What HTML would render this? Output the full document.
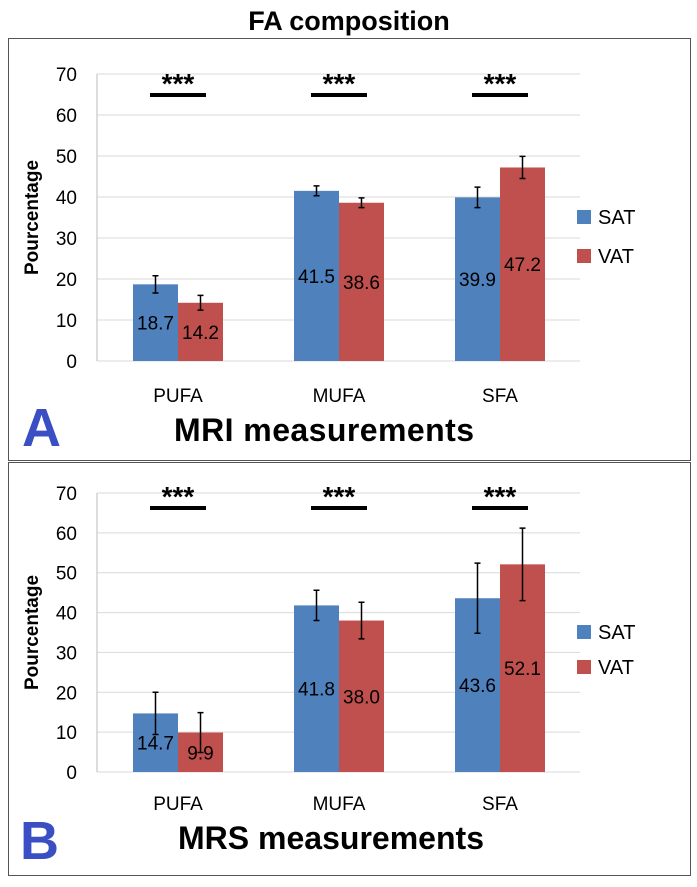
<!DOCTYPE html>
<html><head><meta charset="utf-8"><style>
body{margin:0;background:#fff;width:697px;height:882px;overflow:hidden;font-family:"Liberation Sans",sans-serif}
</style></head><body>
<svg id="svg" width="697" height="882" xmlns="http://www.w3.org/2000/svg" font-family="Liberation Sans, sans-serif">
<text x="349" y="30" font-size="27" font-weight="bold" text-anchor="middle">FA composition</text>
<rect x="8.5" y="38.5" width="682" height="422" fill="none" stroke="#555" stroke-width="1"/>
<rect x="8.5" y="462.5" width="682" height="413" fill="none" stroke="#555" stroke-width="1"/>
<g id="pa"></g>
<g id="pb"></g>
<text x="22" y="446" font-size="54" font-weight="bold" fill="#3b4fc4">A</text>
<text x="324" y="441" font-size="32" font-weight="bold" text-anchor="middle" textLength="300">MRI measurements</text>
<text x="20" y="859" font-size="54" font-weight="bold" fill="#3b4fc4">B</text>
<text x="331" y="849" font-size="32" font-weight="bold" text-anchor="middle" textLength="306">MRS measurements</text>
</svg>
<script>
const categories=["PUFA","MUFA","SFA"];
const ticks=[0,10,20,30,40,50,60,70];
const mriSAT=[18.7,41.5,39.9];
const mriVAT=[14.2,38.6,47.2];
const mriSATerr=[2.1,1.2,2.5];
const mriVATerr=[1.8,1.2,2.7];
const mrsSAT=[14.7,41.8,43.6];
const mrsVAT=[9.9,38.0,52.1];
const mrsSATerr=[5.3,3.8,8.8];
const mrsVATerr=[5.0,4.6,9.1];
const NS='http://www.w3.org/2000/svg';
function mk(p,t,a){const e=document.createElementNS(NS,t);for(const k in a)e.setAttribute(k,a[k]);p.appendChild(e);return e;}
function draw(gid,y0,y70,sat,vat,se,ve,catY,sigY,legY1,legY2){
 const g=document.getElementById(gid);
 const y=v=>y0+(y70-y0)*v/70;
 const L=97,R=580,cx=i=>178+i*161,bw=45;
 ticks.forEach(t=>{
  const l=mk(g,'line',{x1:L,x2:R,y1:y(t),y2:y(t),stroke:'#d9d9d9','stroke-width':1});
  
  const tx=mk(g,'text',{x:77,y:y(t)+7,'font-size':19,'text-anchor':'end'});tx.textContent=t;
  
 });
 const ax=mk(g,'line',{x1:L,x2:L,y1:y(0),y2:y(70),stroke:'#bbb'});
 
 const yt=mk(g,'text',{x:0,y:0,'font-size':19,'font-weight':'bold','text-anchor':'middle',transform:`translate(38,${(y(0)+y(70))/2}) rotate(-90)`});
 yt.textContent='Pourcentage';
 categories.forEach((c,i)=>{
  [[sat,se,'#4f81bd',-bw,'sat'],[vat,ve,'#c0504d',0,'vat']].forEach(([d,e,col,off,nm])=>{
   const v=d[i],x=cx(i)+off;
   const r=mk(g,'rect',{x:x,y:y(v),width:bw,height:y(0)-y(v),fill:col});
   
   const m=x+bw/2;
   const eb=mk(g,'path',{d:`M${m},${y(v+e[i])}V${y(v-e[i])}M${m-3},${y(v+e[i])}h6M${m-3},${y(v-e[i])}h6`,stroke:'#000','stroke-width':1.5,fill:'none'});
   
   const t=mk(g,'text',{x:m,y:y(v/2)+7,'font-size':19,'text-anchor':'middle'});t.textContent=v.toFixed(1);
   
  });
  const cl=mk(g,'text',{x:cx(i),y:catY,'font-size':19,'text-anchor':'middle'});cl.textContent=c;
  
  const sl=mk(g,'line',{x1:cx(i)-28,x2:cx(i)+28,y1:sigY,y2:sigY,stroke:'#000','stroke-width':4});
  
  const st=mk(g,'text',{x:cx(i),y:sigY-2,'font-size':28,'font-weight':'bold','text-anchor':'middle'});st.textContent='***';
  
 });
 [['SAT','#4f81bd',legY1],['VAT','#c0504d',legY2]].forEach(([n,col,ly])=>{
  const r=mk(g,'rect',{x:577,y:ly-7,width:14,height:14,fill:col});
  
  const t=mk(g,'text',{x:598,y:ly+7,'font-size':20});t.textContent=n;
  
 });
}
draw('pa',361,74,mriSAT,mriVAT,mriSATerr,mriVATerr,402,95,217,256);
draw('pb',772,493,mrsSAT,mrsVAT,mrsSATerr,mrsVATerr,810,508,632,667);
</script>
</body></html>
